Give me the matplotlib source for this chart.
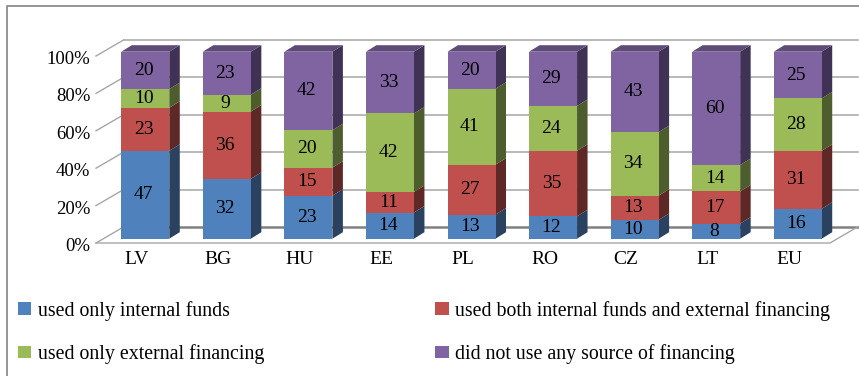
import numpy as np
import matplotlib
matplotlib.use('Agg')
import matplotlib.pyplot as plt
from matplotlib.lines import Line2D
from matplotlib.patches import Patch, Polygon
from matplotlib.transforms import Affine2D

plt.rcParams['font.family'] = ['Liberation Serif', 'DejaVu Serif']

countries = ['LV', 'BG', 'HU', 'EE', 'PL', 'RO', 'CZ', 'LT', 'EU']
series_names = ['used only internal funds',
                'used both internal funds and external financing',
                'used only external financing',
                'did not use any source of financing']
internal_only = [47, 32, 23, 14, 13, 12, 10, 8, 16]
both_sources = [23, 36, 15, 11, 27, 35, 13, 17, 31]
external_only = [10, 9, 20, 42, 41, 24, 34, 14, 28]
no_source = [20, 23, 42, 33, 20, 29, 43, 60, 25]
y_ticks = [0, 20, 40, 60, 80, 100]

front_colors = ['#4F81BD', '#C0504D', '#9BBB59', '#8064A2']
side_colors = ['#2A4260', '#5E2826', '#4E5D2D', '#3F3254']
top_color = '#5F4B7A'
grid_color = '#A6A6A6'
frame_color = '#8C8C8C'

W, H = 859, 376
fig = plt.figure(figsize=(W / 100, H / 100), dpi=100)
ax = fig.add_axes([96 / W, (H - 243) / H, (830 - 96) / W, 187 / H])
ax.set_xlim(-0.5, 8.5)
ax.set_ylim(0, 100)

# pixel sizes turned into data units for the fake 3D depth
px_x = 9 / (830 - 96)
px_y = 100 / 187

# back wall and floor
wall_dx, wall_dy = 27.5 * px_x, 16 * px_y
for t in y_ticks:
    ax.plot([-0.5, -0.5 + wall_dx], [t, t + wall_dy], color=grid_color, lw=1, clip_on=False, zorder=1)
    ax.plot([-0.5 + wall_dx, 8.5 + wall_dx], [t + wall_dy, t + wall_dy],
            color='#808080' if t == 0 else grid_color, lw=1.8 if t == 0 else 1.1, clip_on=False, zorder=1)
ax.plot([-0.5, 8.5, 8.5 + wall_dx], [0, 0, wall_dy], color=grid_color, lw=1, clip_on=False, zorder=1)

# bars sit a little inside the floor
bar_trans = ax.transData + Affine2D().translate(8.5, 4.3)
x = np.arange(len(countries))
bar_w = 48 * px_x
depth_x, depth_y = 10.5 * px_x, 6.5 * px_y

values = np.array([internal_only, both_sources, external_only, no_source], dtype=float)
shares = values / values.sum(axis=0) * 100
bottoms = np.zeros(len(countries))

for s in range(4):
    ax.bar(x, shares[s], bar_w, bottom=bottoms, color=front_colors[s], transform=bar_trans, clip_on=False, zorder=3)
    for i in range(len(countries)):
        y0, y1 = bottoms[i], bottoms[i] + shares[s][i]
        r = x[i] + bar_w / 2
        ax.add_patch(Polygon([(r, y0), (r + depth_x, y0 + depth_y), (r + depth_x, y1 + depth_y), (r, y1)],
                             closed=True, fc=side_colors[s], ec='none', transform=bar_trans, clip_on=False, zorder=2.5))
        ax.text(x[i] - 0.02, (y0 + y1) / 2, f'{values[s][i]:.0f}', ha='center', va='center', fontsize=14,
                color='black', transform=bar_trans, zorder=4)
    bottoms = bottoms + shares[s]

# top faces of the stacks
for i in range(len(countries)):
    l, r = x[i] - bar_w / 2, x[i] + bar_w / 2
    ax.add_patch(Polygon([(l, 100), (r, 100), (r + depth_x, 100 + depth_y), (l + depth_x, 100 + depth_y)],
                         closed=True, fc=top_color, ec='none', transform=bar_trans, clip_on=False, zorder=2.6))

ax.set_xlim(-0.5, 8.5)
ax.set_ylim(0, 100)
ax.set_xticks(x)
ax.set_xticklabels(countries, fontsize=14)
ax.set_yticks(y_ticks)
ax.set_yticklabels([f'{t}%' for t in y_ticks], fontsize=13.5)
ax.tick_params(axis='x', length=0, pad=6)
ax.tick_params(axis='y', length=0, pad=4)
for label in ax.get_yticklabels():
    label.set_transform(label.get_transform() + Affine2D().translate(0, -1.5))
for spine in ax.spines.values():
    spine.set_visible(False)
ax.patch.set_visible(False)

# legend reads across, matplotlib fills by column
order = [0, 2, 1, 3]
handles = [Patch(fc=front_colors[s], ec='none') for s in order]
fig.legend(handles, [series_names[s] for s in order], ncols=2, frameon=False, fontsize=14.3,
           loc='upper left', bbox_to_anchor=(0 / W, (H - 283) / H),
           handlelength=0.68, handleheight=0.6, handletextpad=0.33, labelspacing=1.18, columnspacing=8.6)

# chart area outline
fig.add_artist(Line2D([7 / W, 7 / W, 1], [0, (H - 6) / H, (H - 6) / H], color=frame_color, lw=1.3))

fig.savefig('out.png', dpi=100)
